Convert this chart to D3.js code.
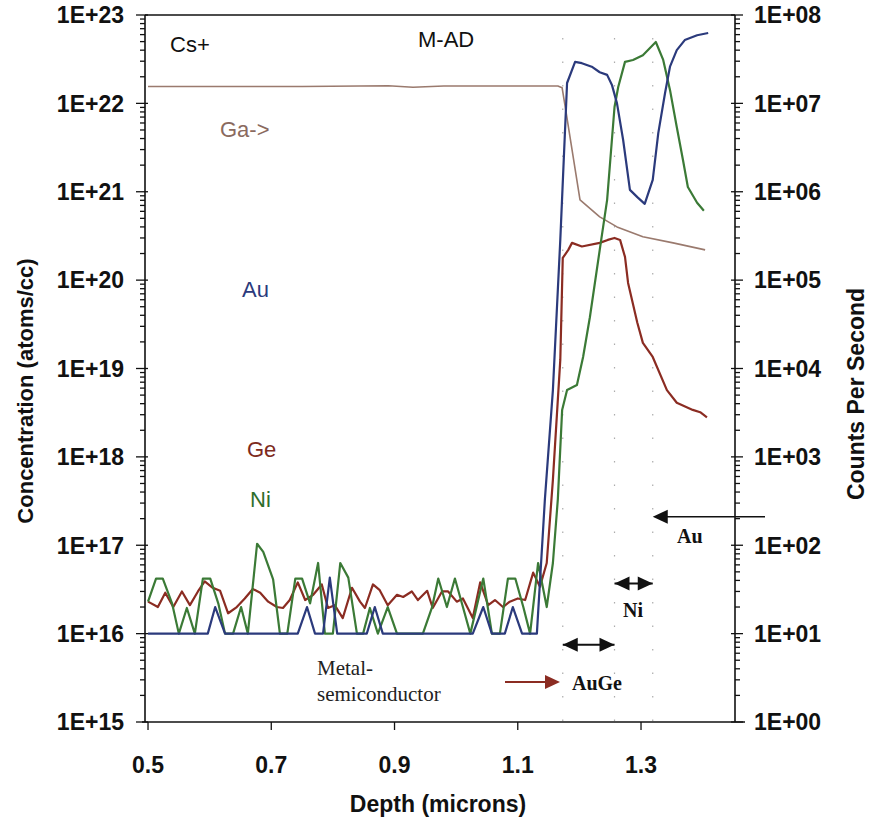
<!DOCTYPE html>
<html>
<head>
<meta charset="utf-8">
<script src="https://cdn.jsdelivr.net/npm/d3@7"></script>
<style>
  body { margin: 0; background: #fff; }
  svg { display: block; }
  text { font-family: "Liberation Sans", Arial, sans-serif; }
</style>
</head>
<body>
<div id="chart"></div>
<script>
// depth (microns), concentration (atoms/cc)
const gaProfile = [
  [0.500, 1.55e22], [0.750, 1.55e22], [0.890, 1.58e22], [0.930, 1.52e22], [0.980, 1.57e22],
  [1.100, 1.57e22], [1.165, 1.57e22], [1.172, 1.50e22], [1.177, 9.1e21], [1.201, 8.1e20],
  [1.233, 5.2e20], [1.261, 4.0e20], [1.303, 3.1e20], [1.352, 2.64e20], [1.404, 2.2e20]
];

const auProfile = [
  [0.500, 1e16], [0.597, 1e16], [0.609, 2.0e16], [0.625, 1e16], [0.743, 1e16], [0.758, 2.0e16],
  [0.771, 1e16], [0.784, 1e16], [0.795, 4.3e16], [0.807, 1e16], [0.855, 1e16], [0.868, 2.0e16],
  [0.881, 1e16], [1.027, 1e16], [1.044, 2.0e16], [1.058, 1e16], [1.079, 1e16], [1.092, 2.0e16],
  [1.107, 1e16], [1.131, 1e16], [1.144, 3.3e17], [1.157, 5.7e18], [1.169, 2.85e20],
  [1.180, 1.7e22], [1.193, 2.95e22], [1.204, 2.85e22], [1.220, 2.6e22], [1.233, 2.25e22],
  [1.245, 2.1e22], [1.253, 1.6e22], [1.261, 1.0e22], [1.271, 3.85e21], [1.282, 1.05e21],
  [1.294, 8.7e20], [1.306, 7.3e20], [1.319, 1.36e21], [1.328, 4.6e21], [1.339, 1.31e22],
  [1.347, 2.6e22], [1.358, 4.0e22], [1.371, 5.2e22], [1.391, 5.9e22], [1.409, 6.25e22]
];

const geProfile = [
  [0.500, 2.3e16], [0.516, 2.0e16], [0.528, 2.9e16], [0.541, 2.0e16], [0.555, 3.0e16],
  [0.568, 2.1e16], [0.581, 3.0e16], [0.592, 3.9e16], [0.605, 3.3e16], [0.617, 3.05e16],
  [0.630, 1.7e16], [0.644, 2.0e16], [0.657, 2.5e16], [0.670, 3.2e16], [0.682, 2.9e16],
  [0.695, 2.3e16], [0.709, 2.0e16], [0.719, 1.95e16], [0.730, 2.4e16], [0.743, 3.8e16],
  [0.755, 2.4e16], [0.768, 2.75e16], [0.782, 3.6e16], [0.792, 1.95e16], [0.803, 2.1e16],
  [0.816, 1.5e16], [0.831, 3.3e16], [0.844, 2.3e16], [0.852, 1.95e16], [0.865, 3.6e16],
  [0.876, 3.1e16], [0.889, 2.1e16], [0.904, 2.75e16], [0.914, 2.6e16], [0.928, 3.0e16],
  [0.938, 2.4e16], [0.953, 3.05e16], [0.962, 1.95e16], [0.977, 3.0e16], [0.987, 3.0e16],
  [1.001, 2.3e16], [1.011, 2.5e16], [1.027, 1.5e16], [1.039, 3.8e16], [1.052, 2.1e16],
  [1.063, 2.4e16], [1.076, 2.0e16], [1.087, 2.3e16], [1.100, 2.5e16], [1.112, 2.4e16],
  [1.125, 4.9e16], [1.136, 3.4e16], [1.147, 6.3e16], [1.157, 5.5e17], [1.169, 1.25e19],
  [1.173, 1.78e20], [1.182, 2.2e20], [1.188, 2.64e20], [1.204, 2.4e20], [1.233, 2.64e20],
  [1.246, 2.85e20], [1.257, 3.0e20], [1.266, 2.85e20], [1.274, 1.83e20], [1.279, 9.3e19],
  [1.294, 3.3e19], [1.303, 1.95e19], [1.319, 1.35e19], [1.342, 5.7e18], [1.358, 4.1e18],
  [1.384, 3.4e18], [1.396, 3.2e18], [1.407, 2.8e18]
];

const niProfile = [
  [0.500, 2.3e16], [0.513, 4.2e16], [0.524, 4.2e16], [0.539, 2.2e16], [0.550, 1e16],
  [0.563, 1.95e16], [0.576, 1e16], [0.589, 4.2e16], [0.601, 4.2e16], [0.614, 2.2e16],
  [0.625, 1e16], [0.638, 1e16], [0.651, 2.0e16], [0.662, 1e16], [0.677, 1.04e17],
  [0.687, 8.4e16], [0.703, 4.1e16], [0.714, 1e16], [0.726, 1e16], [0.739, 4.2e16],
  [0.750, 4.2e16], [0.763, 2.2e16], [0.776, 6.3e16], [0.787, 1e16], [0.800, 1e16],
  [0.812, 6.3e16], [0.825, 4.3e16], [0.839, 1e16], [0.849, 1e16], [0.860, 1.95e16],
  [0.873, 1e16], [0.889, 2.0e16], [0.904, 1e16], [0.946, 1e16], [0.961, 2.0e16],
  [0.971, 4.2e16], [0.985, 2.0e16], [0.998, 4.2e16], [1.011, 2.0e16], [1.023, 1e16],
  [1.044, 4.2e16], [1.058, 1e16], [1.071, 1e16], [1.084, 4.2e16], [1.096, 4.2e16],
  [1.109, 2.0e16], [1.120, 1e16], [1.133, 6.3e16], [1.147, 2.0e16], [1.157, 6.3e16],
  [1.165, 3.3e17], [1.172, 3.4e18], [1.180, 5.7e18], [1.196, 6.5e18], [1.206, 1.35e19],
  [1.217, 3.8e19], [1.233, 2.2e20], [1.245, 8.1e20], [1.257, 9.1e21], [1.263, 1.53e22],
  [1.274, 2.95e22], [1.287, 3.1e22], [1.303, 3.5e22], [1.324, 4.95e22], [1.336, 3.1e22],
  [1.347, 1.42e22], [1.358, 5.4e21], [1.368, 2.3e21], [1.376, 1.13e21], [1.391, 7.5e20],
  [1.402, 6.1e20]
];

const xTicks = [0.5, 0.7, 0.9, 1.1, 1.3];
const leftDecades = [15, 16, 17, 18, 19, 20, 21, 22, 23];
const rightDecades = [0, 1, 2, 3, 4, 5, 6, 7, 8];
const layerEdges = [1.173, 1.257, 1.319]; // AuGe | Ni | Au boundaries

const series = [
  { name: "Ga", data: gaProfile, color: "#9a7a6e", width: 1.6 },
  { name: "Ge", data: geProfile, color: "#8b2c22", width: 2.2 },
  { name: "Ni", data: niProfile, color: "#3b7a36", width: 2.2 },
  { name: "Au", data: auProfile, color: "#2b3a7c", width: 2.2 }
];

const width = 872, height = 820;
const plotLeft = 145, plotRight = 735, plotTop = 15, plotBottom = 722;

const svg = d3.select("#chart").append("svg")
  .attr("width", width)
  .attr("height", height);

const x = d3.scaleLinear()
  .domain([0.4951, 1.4525])
  .range([plotLeft, plotRight]);
const y = d3.scaleLog()
  .domain([1e15, 1e23])
  .range([plotBottom, plotTop]);
const yRight = d3.scaleLog()
  .domain([1, 1e8])
  .range([plotBottom, plotTop]);

// faint dotted boundaries between layers
svg.append("g").selectAll("line")
  .data(layerEdges)
  .enter().append("line")
  .attr("x1", d => x(d)).attr("x2", d => x(d))
  .attr("y1", 38).attr("y2", plotBottom)
  .attr("stroke", "#8a8a8a")
  .attr("stroke-width", 1.2)
  .attr("stroke-dasharray", "1.5,22")
  .attr("opacity", 0.7);

const line = d3.line()
  .x(d => x(d[0]))
  .y(d => y(d[1]));

svg.append("g").selectAll("path")
  .data(series)
  .enter().append("path")
  .attr("d", d => line(d.data))
  .attr("fill", "none")
  .attr("stroke", d => d.color)
  .attr("stroke-width", d => d.width)
  .attr("stroke-linejoin", "round");

// frame
const frame = svg.append("g").attr("stroke", "#111").attr("stroke-width", 1.6);
frame.append("line").attr("x1", plotLeft).attr("x2", plotRight).attr("y1", plotTop).attr("y2", plotTop);
frame.append("line").attr("x1", plotLeft - 3).attr("x2", plotRight + 10).attr("y1", plotBottom).attr("y2", plotBottom);
frame.append("line").attr("x1", plotLeft).attr("x2", plotLeft).attr("y1", plotTop).attr("y2", plotBottom);
frame.append("line").attr("x1", plotRight).attr("x2", plotRight).attr("y1", plotTop).attr("y2", plotBottom);

// log ticks, majors longer
function logTicks(decades) {
  let out = [];
  decades.forEach((k, i) => {
    out.push({ v: Math.pow(10, k), major: true });
    if (i < decades.length - 1) {
      for (let m = 2; m <= 9; m++) out.push({ v: m * Math.pow(10, k), major: false });
    }
  });
  return out;
}

svg.append("g").selectAll("line")
  .data(logTicks(leftDecades))
  .enter().append("line")
  .attr("x1", d => d.major ? plotLeft - 9 : plotLeft - 5)
  .attr("x2", d => d.major ? plotLeft + 3 : plotLeft)
  .attr("y1", d => y(d.v)).attr("y2", d => y(d.v))
  .attr("stroke", "#111").attr("stroke-width", 1.3);

svg.append("g").selectAll("line")
  .data(logTicks(rightDecades))
  .enter().append("line")
  .attr("x1", d => d.major ? plotRight - 4 : plotRight)
  .attr("x2", d => d.major ? plotRight + 8 : plotRight + 5)
  .attr("y1", d => yRight(d.v)).attr("y2", d => yRight(d.v))
  .attr("stroke", "#111").attr("stroke-width", 1.3);

svg.append("g").selectAll("line")
  .data(xTicks)
  .enter().append("line")
  .attr("x1", d => x(d)).attr("x2", d => x(d))
  .attr("y1", plotBottom).attr("y2", plotBottom + 8)
  .attr("stroke", "#111").attr("stroke-width", 1.3);

const expLabel = k => "1E+" + String(k).padStart(2, "0");

svg.append("g").selectAll("text")
  .data(leftDecades)
  .enter().append("text")
  .attr("x", 124)
  .attr("y", d => y(Math.pow(10, d)))
  .attr("dy", "0.36em")
  .attr("text-anchor", "end")
  .attr("font-size", 23).attr("font-weight", "bold").attr("fill", "#111")
  .text(expLabel);

svg.append("g").selectAll("text")
  .data(rightDecades)
  .enter().append("text")
  .attr("x", 754)
  .attr("y", d => yRight(Math.pow(10, d)))
  .attr("dy", "0.36em")
  .attr("font-size", 23).attr("font-weight", "bold").attr("fill", "#111")
  .text(expLabel);

svg.append("g").selectAll("text")
  .data(xTicks)
  .enter().append("text")
  .attr("x", d => x(d))
  .attr("y", 765)
  .attr("dy", "0.36em")
  .attr("text-anchor", "middle")
  .attr("font-size", 23).attr("font-weight", "bold").attr("fill", "#111")
  .text(d => d.toFixed(1));

// axis titles
svg.append("text")
  .attr("x", 438).attr("y", 804).attr("dy", "0.36em")
  .attr("text-anchor", "middle")
  .attr("font-size", 23).attr("font-weight", "bold").attr("fill", "#111")
  .text("Depth (microns)");

svg.append("text")
  .attr("transform", "translate(33,391) rotate(-90)")
  .attr("text-anchor", "middle")
  .attr("font-size", 22).attr("font-weight", "bold").attr("fill", "#111")
  .text("Concentration (atoms/cc)");

svg.append("text")
  .attr("transform", "translate(864,394) rotate(-90)")
  .attr("text-anchor", "middle")
  .attr("font-size", 23).attr("font-weight", "bold").attr("fill", "#111")
  .text("Counts Per Second");

// in-plot labels
const labels = [
  { t: "Cs+", x: 170, y: 52, c: "#111" },
  { t: "M-AD", x: 418, y: 47, c: "#111" },
  { t: "Ga->", x: 220, y: 137, c: "#8a6a5e" },
  { t: "Au", x: 242, y: 297, c: "#2b3a7c" },
  { t: "Ge", x: 247, y: 457, c: "#7d2a20" },
  { t: "Ni", x: 250, y: 507, c: "#2f6e2c" }
];
svg.append("g").selectAll("text")
  .data(labels)
  .enter().append("text")
  .attr("x", d => d.x).attr("y", d => d.y)
  .attr("font-size", 22).attr("fill", d => d.c)
  .text(d => d.t);

const serif = "'Liberation Serif', 'Times New Roman', serif";
svg.append("text").attr("x", 317).attr("y", 675)
  .style("font-family", serif).attr("font-size", 21).attr("fill", "#222")
  .text("Metal-");
svg.append("text").attr("x", 317).attr("y", 701)
  .style("font-family", serif).attr("font-size", 21).attr("fill", "#222")
  .text("semiconductor");

// arrows
function head(g, tipX, yy, dir, color) {
  const len = 15, half = 7;
  g.append("path")
    .attr("d", `M${tipX},${yy} L${tipX - dir * len},${yy - half} L${tipX - dir * len},${yy + half} Z`)
    .attr("fill", color);
}
const ann = svg.append("g");

// metal-semiconductor interface arrow
const yMs = 682;
ann.append("line").attr("x1", 505).attr("x2", 546).attr("y1", yMs).attr("y2", yMs)
  .attr("stroke", "#8b2c22").attr("stroke-width", 2);
head(ann, 560, yMs, 1, "#8b2c22");

// AuGe layer span
const yAuGe = y(7.5e15);
ann.append("line").attr("x1", x(layerEdges[0])).attr("x2", x(layerEdges[1]))
  .attr("y1", yAuGe).attr("y2", yAuGe).attr("stroke", "#111").attr("stroke-width", 2);
head(ann, x(layerEdges[0]), yAuGe, -1, "#111");
head(ann, x(layerEdges[1]), yAuGe, 1, "#111");

// Ni layer span
const yNi = y(3.7e16);
ann.append("line").attr("x1", x(layerEdges[1])).attr("x2", x(layerEdges[2]))
  .attr("y1", yNi).attr("y2", yNi).attr("stroke", "#111").attr("stroke-width", 2);
head(ann, x(layerEdges[1]), yNi, -1, "#111");
head(ann, x(layerEdges[2]), yNi, 1, "#111");

// Au layer
const yAu = y(2.1e17);
ann.append("line").attr("x1", x(layerEdges[2]) + 10).attr("x2", 765)
  .attr("y1", yAu).attr("y2", yAu).attr("stroke", "#111").attr("stroke-width", 1.6);
head(ann, x(layerEdges[2]), yAu, -1, "#111");

const boldSerif = [
  { t: "AuGe", x: 572, y: 690 },
  { t: "Ni", x: 623, y: 617 },
  { t: "Au", x: 677, y: 543 }
];
ann.selectAll("text.layer")
  .data(boldSerif)
  .enter().append("text")
  .attr("class", "layer")
  .attr("x", d => d.x).attr("y", d => d.y)
  .style("font-family", serif).attr("font-weight", "bold")
  .attr("font-size", 20).attr("fill", "#111")
  .text(d => d.t);
</script>
</body>
</html>
